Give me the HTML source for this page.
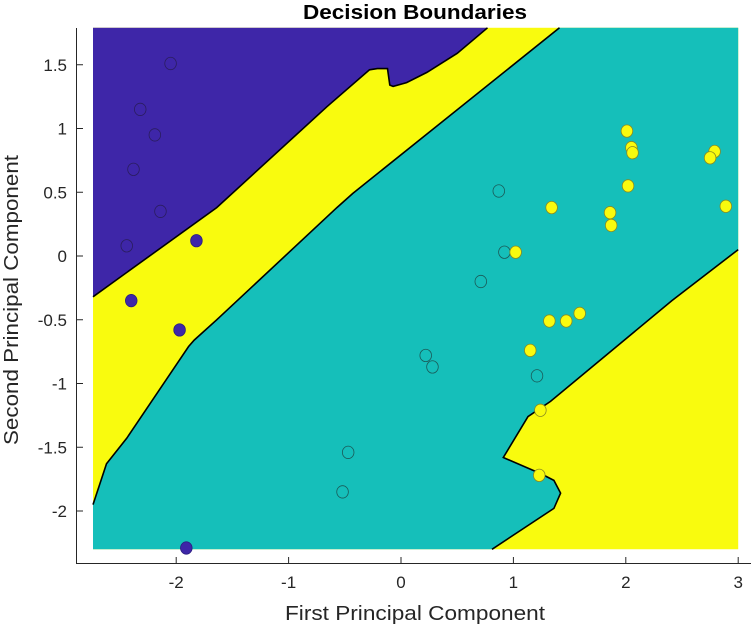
<!DOCTYPE html>
<html><head><meta charset="utf-8"><style>
html,body{margin:0;padding:0;background:#fff;}
svg{display:block;font-family:"Liberation Sans",Arial,sans-serif;}
</style></head><body>
<svg id="chart" width="756" height="630" viewBox="0 0 756 630">
<g id="regions"></g>
<g id="points"></g>
<g id="axes"></g>
<text x="415" y="19" text-anchor="middle" font-size="20" font-weight="bold" textLength="224" lengthAdjust="spacingAndGlyphs">Decision Boundaries</text>
<text x="415" y="620" text-anchor="middle" font-size="20" fill="#262626" textLength="260" lengthAdjust="spacingAndGlyphs">First Principal Component</text>
<text transform="translate(18,300) rotate(-90)" text-anchor="middle" font-size="20" fill="#262626" textLength="290" lengthAdjust="spacingAndGlyphs">Second Principal Component</text>
</svg>
<script>
const xTicks=[-2,-1,0,1,2,3];
const yTicks=[1.5,1,0.5,0,-0.5,-1,-1.5,-2];
const yTickLabels=["1.5","1","0.5","0","-0.5","-1","-1.5","-2"];
const regionExtent=[-2.74,3.0,-2.30,1.79];
const purpleBoundary=[[-2.74,-0.32],[-1.64,0.38],[-0.66,1.17],[-0.28,1.46],[-0.21,1.47],[-0.12,1.47],[-0.10,1.34],[-0.07,1.33],[0.05,1.36],[0.23,1.44],[0.50,1.59],[0.77,1.79]];
const tealUpperBoundary=[[1.41,1.79],[-0.43,0.49],[-0.57,0.38],[-1.64,-0.50],[-1.84,-0.66],[-1.89,-0.71],[-2.44,-1.43],[-2.62,-1.63],[-2.74,-1.95]];
const tealLowerBoundary=[[3.0,0.05],[2.41,-0.35],[1.33,-1.14],[1.13,-1.26],[0.91,-1.58],[1.25,-1.71],[1.36,-1.76],[1.42,-1.86],[1.36,-1.98],[0.81,-2.30]];
const class1Filled=[[-1.82,0.12],[-2.40,-0.35],[-1.97,-0.58],[-1.91,-2.29]];
const class1Open=[[-2.05,1.51],[-2.32,1.15],[-2.19,0.95],[-2.38,0.68],[-2.14,0.35],[-2.44,0.08]];
const class2Open=[[0.87,0.51],[0.92,0.03],[0.71,-0.20],[0.22,-0.78],[0.28,-0.87],[1.21,-0.94],[-0.47,-1.54],[-0.52,-1.85]];
const class3Filled=[[2.01,0.98],[2.05,0.85],[2.06,0.81],[2.02,0.55],[1.86,0.34],[1.87,0.24],[1.34,0.38],[1.02,0.03],[2.89,0.39],[2.79,0.82],[2.75,0.77],[1.32,-0.51],[1.47,-0.51],[1.59,-0.45],[1.15,-0.74],[1.24,-1.21],[1.23,-1.72]];

const NS='http://www.w3.org/2000/svg';
const sx=v=>401+112.4*v;
const sy=v=>256-127.5*v;
function mk(tag,attrs,parent){const e=document.createElementNS(NS,tag);for(const k in attrs)e.setAttribute(k,attrs[k]);parent.appendChild(e);return e;}
const P='#3e26a8',Y='#f9fb0e',T='#15bfba';
const reg=document.getElementById('regions');
const [x0,x1,y0,y1]=regionExtent;
const pts=a=>a.map(p=>sx(p[0]).toFixed(1)+','+sy(p[1]).toFixed(1)).join(' ');
let e=mk('rect',{x:sx(x0),y:sy(y1),width:sx(x1)-sx(x0),height:sy(y0)-sy(y1),fill:Y},reg);


const tealPoly=tealUpperBoundary.concat([[x0,y0]]).concat(tealLowerBoundary.slice().reverse()).concat([[x1,y1]]);
e=mk('polygon',{points:pts(tealPoly),fill:T},reg);


const purPoly=[[x0,y1]].concat(purpleBoundary);
e=mk('polygon',{points:pts(purPoly),fill:P},reg);


[purpleBoundary,tealUpperBoundary,tealLowerBoundary].forEach((b,i)=>{
  const l=mk('polyline',{points:pts(b),fill:'none',stroke:'#000','stroke-width':1.6},reg);
  
  
});
const pg=document.getElementById('points');
function dots(arr,fill,stroke,name){arr.forEach(p=>{
  const c=mk('ellipse',{cx:sx(p[0]),cy:sy(p[1]),rx:5.8,ry:6.2,fill:fill,stroke:stroke,'stroke-width':0.8},pg);
  
  
});}
dots(class1Open,'none','#2a1d5e','class1-open-point');
dots(class2Open,'none','#1a5a58','class2-open-point');
dots(class1Filled,P,'#2a1d7e','class1-filled-point');
dots(class3Filled,Y,'#8a8a20','class3-filled-point');
const ax=document.getElementById('axes');
e=mk('line',{x1:76.5,y1:28,x2:76.5,y2:563.5,stroke:'#262626','stroke-width':1},ax);


e=mk('line',{x1:76,y1:563.5,x2:751,y2:563.5,stroke:'#262626','stroke-width':1},ax);


xTicks.forEach(v=>{
  const t=mk('line',{x1:sx(v),x2:sx(v),y1:563.5,y2:557,stroke:'#262626'},ax);
  
  
  const l=mk('text',{x:sx(v),y:588,'text-anchor':'middle','font-size':17,fill:'#262626'},ax);
  l.textContent=String(v);
  
  
});
yTicks.forEach((v,i)=>{
  const t=mk('line',{x1:76.5,x2:83,y1:sy(v),y2:sy(v),stroke:'#262626'},ax);
  
  
  const l=mk('text',{x:67,y:sy(v)+6,'text-anchor':'end','font-size':17,fill:'#262626'},ax);
  l.textContent=yTickLabels[i];
  
  
});
</script>
</body></html>
